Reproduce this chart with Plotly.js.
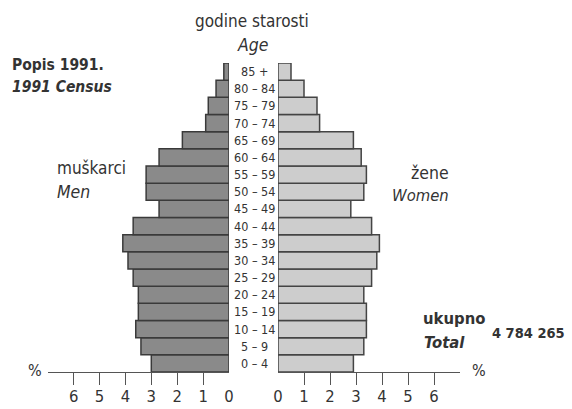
<!DOCTYPE html>
<html>
<head>
<meta charset="utf-8">
<script src="https://cdn.plot.ly/plotly-3.0.1.min.js"></script>
<style>html,body{margin:0;padding:0;background:#fff;}#chart{width:572px;height:409px;}</style>
</head>
<body>
<div id="chart"></div>
<script>
var ages = ["0 – 4","5 – 9","10 – 14","15 – 19","20 – 24","25 – 29","30 – 34","35 – 39","40 – 44","45 – 49","50 – 54","55 – 59","60 – 64","65 – 69","70 – 74","75 – 79","80 – 84","85 +"];
var men = [3.0,3.4,3.6,3.5,3.5,3.7,3.9,4.1,3.7,2.7,3.2,3.2,2.7,1.8,0.9,0.8,0.5,0.2];
var women = [2.9,3.3,3.4,3.4,3.3,3.6,3.8,3.9,3.6,2.8,3.3,3.4,3.2,2.9,1.6,1.5,1.0,0.5];
var tickVals = [0,1,2,3,4,5,6];
var tickText = ["0","1","2","3","4","5","6"];
var minorTicks = [1,2,3,4,5,6];
var totalLabel = "4 784 265";

var FONT = '"DejaVu Sans Condensed", "DejaVu Sans", Arial, sans-serif';
var TXT = '#333333';

var traces = [
  {type:'bar', orientation:'h', y:ages, x:men, xaxis:'x', yaxis:'y',
   marker:{color:'#8a8a8a', line:{color:'#3a3a3a', width:1.5}}, hoverinfo:'skip'},
  {type:'bar', orientation:'h', y:ages, x:women, xaxis:'x2', yaxis:'y',
   marker:{color:'#cdcdcd', line:{color:'#444444', width:1.5}}, hoverinfo:'skip'}
];

var axisCommon = {
  showgrid:false, zeroline:false, showline:true, linecolor:'#555', linewidth:1,
  tickmode:'array', tickvals:tickVals, ticktext:tickText, ticks:'',
  ticklabelstandoff:9,
  tickfont:{family:FONT, size:16.5, color:TXT},
  minor:{tickmode:'array', tickvals:minorTicks, ticks:'outside', ticklen:12, tickwidth:1, tickcolor:'#555', showgrid:false},
  fixedrange:true
};

var layout = {
  width:572, height:409,
  margin:{l:0, r:0, t:63, b:37},
  paper_bgcolor:'#fff', plot_bgcolor:'#fff',
  showlegend:false,
  bargap:0,
  font:{family:FONT, color:TXT},
  xaxis: Object.assign({}, axisCommon, {domain:[47.7/572, 229/572], range:[7,0], anchor:'y'}),
  xaxis2: Object.assign({}, axisCommon, {domain:[278/572, 460/572], range:[0,7], anchor:'y'}),
  yaxis: {type:'category', range:[-0.5,17.5], showticklabels:false, showgrid:false, zeroline:false, showline:false, ticks:'', fixedrange:true},
  annotations: []
};

ages.forEach(function(a){
  layout.annotations.push({xref:'paper', yref:'y', x:254/572, y:a, text:a, showarrow:false,
    xanchor:'center', yanchor:'middle', font:{family:FONT, size:12.5, color:TXT}});
});

function ann(text, xpx, ypx, xanchor, size, extra){
  var o = {xref:'paper', yref:'paper', x:xpx/572, y:(372-ypx)/309, text:text, showarrow:false,
    xanchor:xanchor, yanchor:'middle', font:{family:FONT, size:size, color:TXT}};
  return Object.assign(o, extra||{});
}
layout.annotations.push(ann('godine starosti', 252, 21, 'center', 17));
layout.annotations.push(ann('<i>Age</i>', 252, 45, 'center', 17.5));
layout.annotations.push(ann('<b>Popis 1991.</b>', 10, 65, 'left', 15.5));
layout.annotations.push(ann('<b><i>1991 Census</i></b>', 10, 87, 'left', 15.5));
layout.annotations.push(ann('muškarci', 55, 168, 'left', 17));
layout.annotations.push(ann('<i>Men</i>', 55, 192, 'left', 17.5));
layout.annotations.push(ann('žene', 430, 173, 'center', 17.5));
layout.annotations.push(ann('<i>Women</i>', 451, 195, 'right', 16.5));
layout.annotations.push(ann('<b>ukupno</b>', 421, 318, 'left', 16.5));
layout.annotations.push(ann('<b><i>Total</i></b>', 422, 342, 'left', 16.5));
layout.annotations.push(ann('<b>' + totalLabel + '</b>', 490, 333, 'left', 14.5));
layout.annotations.push(ann('%', 35, 370, 'center', 16));
layout.annotations.push(ann('%', 479, 370, 'center', 16));

Plotly.newPlot('chart', traces, layout, {displayModeBar:false, staticPlot:true});
</script>
</body>
</html>
